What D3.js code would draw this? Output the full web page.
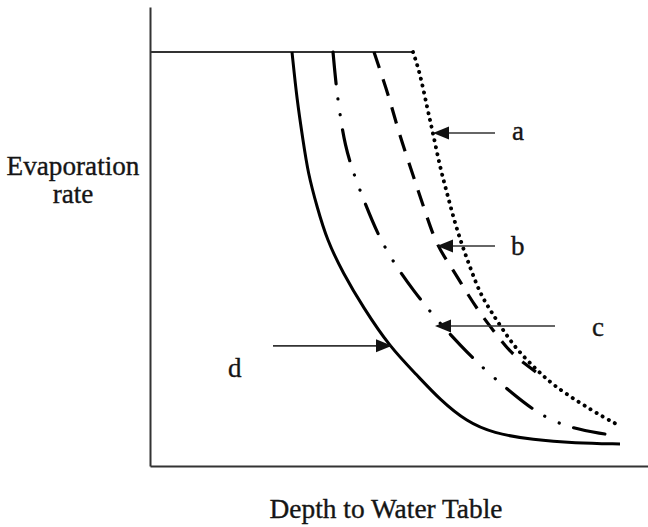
<!DOCTYPE html>
<html>
<head>
<meta charset="utf-8">
<script src="https://cdn.jsdelivr.net/npm/d3@7"></script>
<style>
  html, body { margin: 0; padding: 0; background: #fff; }
  svg { display: block; }
  text { font-family: "Liberation Serif", "DejaVu Serif", serif; fill: #151515; stroke: #151515; stroke-width: 0.35; }
</style>
</head>
<body>
<svg id="chart" width="648" height="527"></svg>
<script>
// ---- Data (x = depth to water table, y = evaporation rate, arbitrary units 0-100) ----
const plateau = [[0, 92], [52.6, 92]];

const curveA = [ // dotted
  [52.6, 92], [54, 87.3], [55.4, 79.8], [56.6, 74], [58, 66.4], [59.4, 60.7],
  [60.8, 54.7], [62.4, 49.1], [64.2, 43.6], [66, 38.4], [68, 34.7], [70.6, 30.2],
  [73.4, 25.8], [77.4, 21.3], [80.6, 18], [86, 14], [90.6, 10.9], [94, 8.9]
];
const curveB = [ // dashed
  [44.8, 92], [46, 88], [48, 81.3], [49.6, 74.7], [51.6, 68], [53.6, 61.3],
  [55.4, 55.3], [57.4, 48.9], [60.6, 43.6], [63.4, 38.4], [66, 34], [68.6, 30.2],
  [72, 25.3], [75, 22.7], [78, 20.2]
];
const curveC = [ // dash-dot-dot
  [36.6, 92], [37.2, 84.7], [38, 78], [39, 71.3], [40.6, 65.3], [43, 58.4],
  [45.6, 51.3], [49, 44.7], [52.6, 39.1], [57.4, 32.4], [62, 26.9], [67, 21.3],
  [72.4, 16.2], [78, 11.3], [84, 8.4], [91, 7.1]
];
const curveD = [ // solid
  [28.4, 92], [29.4, 81.3], [30.6, 72.4], [31.6, 65.1], [33.4, 57.6], [35.4, 50.2],
  [38.6, 42.9], [42.6, 35.3], [48, 26.4], [53.4, 20.2], [58, 14.7], [63.4, 9.8],
  [68.6, 7.3], [76.6, 5.8], [85, 5.1], [94, 4.9]
];

// annotation arrows: label, tail x, tip x, y, label x, label y
const arrowLabels = ["a", "b", "c", "d"];
const arrowTailX = [69, 69, 81, 24.6];
const arrowTipX = [56.6, 57.4, 57, 48.4];
const arrowY = [74, 48.9, 31.1, 26.7];
const labelX = [72.4, 72.2, 88.4, 15.6];
const labelY = [72.4, 46.9, 28.9, 19.8];

const xTitle = "Depth to Water Table";
const yTitle = ["Evaporation", "rate"];

// ---- Drawing ----
const svg = d3.select("#chart");
const x = d3.scaleLinear().domain([0, 100]).range([150, 650]);
const y = d3.scaleLinear().domain([0, 100]).range([466, 16]);

// axes (no ticks)
const xAxis = d3.axisBottom(x).tickValues([]).tickSizeOuter(0);
svg.append("g").attr("transform", `translate(0,${y(0)})`).call(xAxis)
  .select(".domain").attr("stroke", "#333").attr("stroke-width", 2);
const yAxisScale = d3.scaleLinear().domain([0, 100]).range([466, 7]);
const yAx = svg.append("g").attr("transform", `translate(${x(0)},0)`)
  .call(d3.axisLeft(yAxisScale).tickValues([]).tickSizeOuter(0));
yAx.select(".domain").attr("stroke", "#333").attr("stroke-width", 2);

const line = d3.line().x(d => x(d[0])).y(d => y(d[1])).curve(d3.curveBasis);
const straight = d3.line().x(d => x(d[0])).y(d => y(d[1]));

svg.append("path").attr("d", straight(plateau))
  .attr("fill", "none").attr("stroke", "#333").attr("stroke-width", 2);

svg.append("path").attr("d", line(curveD))
  .attr("fill", "none").attr("stroke", "#000").attr("stroke-width", 3);
svg.append("path").attr("d", line(curveC))
  .attr("fill", "none").attr("stroke", "#000").attr("stroke-width", 3.2)
  .attr("stroke-linecap", "round")
  .attr("stroke-dasharray", "32,15,0.1,16,0.1,15");
svg.append("path").attr("d", line(curveB))
  .attr("fill", "none").attr("stroke", "#000").attr("stroke-width", 3.2)
  .attr("stroke-dasharray", "17,12");
svg.append("path").attr("d", line(curveA))
  .attr("fill", "none").attr("stroke", "#000").attr("stroke-width", 3.9)
  .attr("stroke-linecap", "round")
  .attr("stroke-dasharray", "0.1,6.9");

// arrows
const ann = svg.append("g");
arrowLabels.forEach((lab, i) => {
  const x0 = x(arrowTailX[i]), x1 = x(arrowTipX[i]), yy = y(arrowY[i]);
  const dir = x1 < x0 ? 1 : -1; // head opens toward tail
  const len = 16, hw = 6.5;
  ann.append("line")
    .attr("x1", x0).attr("y1", yy).attr("x2", x1 + dir * len * 0.6).attr("y2", yy)
    .attr("stroke", "#333").attr("stroke-width", 1.6);
  ann.append("path")
    .attr("d", `M${x1},${yy}L${x1 + dir * len},${yy - hw}L${x1 + dir * len},${yy + hw}Z`)
    .attr("fill", "#111");
  ann.append("text")
    .attr("x", x(labelX[i])).attr("y", y(labelY[i]))
    .attr("font-size", 27)
    .text(lab);
});

// titles
svg.append("text").attr("x", 386).attr("y", 518)
  .attr("text-anchor", "middle").attr("font-size", 27.4).text(xTitle);
svg.append("text").attr("x", 73).attr("y", 175)
  .attr("text-anchor", "middle").attr("font-size", 27.2).text(yTitle[0]);
svg.append("text").attr("x", 73).attr("y", 203)
  .attr("text-anchor", "middle").attr("font-size", 27.2).text(yTitle[1]);
</script>
</body>
</html>
